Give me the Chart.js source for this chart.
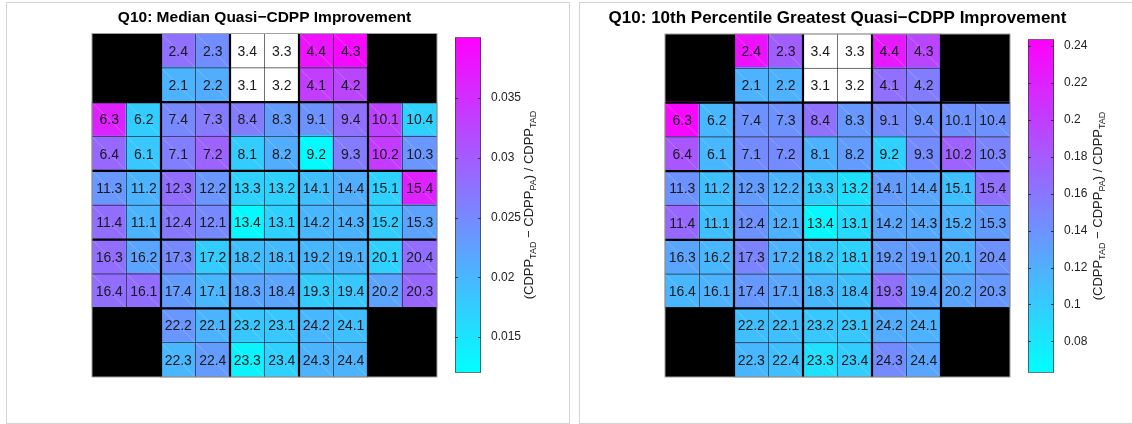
<!DOCTYPE html>
<html>
<head>
<meta charset="utf-8">
<script src="https://cdn.jsdelivr.net/npm/chart.js@4.4.1/dist/chart.umd.min.js"></script>
<style>
  body { margin: 0; background: #fff; width: 1132px; height: 424px; overflow: hidden; position: relative; }
  .panel { position: absolute; top: 2px; height: 420px; border: 1px solid #d4d4d4; box-sizing: content-box; }
  canvas { position: absolute; }
</style>
</head>
<body>
<div class="panel" style="left:6px;width:562px;"></div>
<div class="panel" style="left:579px;width:600px;"></div>
<canvas id="mapL" width="440" height="376" style="left:8px;top:2px;"></canvas>
<canvas id="barL" width="122" height="354" style="left:448px;top:28px;"></canvas>
<canvas id="mapR" width="540" height="376" style="left:582px;top:2px;"></canvas>
<canvas id="barR" width="111" height="352" style="left:1021px;top:30px;"></canvas>
<script>
// module.output names, top row first; null = no module (black)
var cellNames = [
    [null, null, "2.4", "2.3", "3.4", "3.3", "4.4", "4.3", null, null],
    [null, null, "2.1", "2.2", "3.1", "3.2", "4.1", "4.2", null, null],
    ["6.3", "6.2", "7.4", "7.3", "8.4", "8.3", "9.1", "9.4", "10.1", "10.4"],
    ["6.4", "6.1", "7.1", "7.2", "8.1", "8.2", "9.2", "9.3", "10.2", "10.3"],
    ["11.3", "11.2", "12.3", "12.2", "13.3", "13.2", "14.1", "14.4", "15.1", "15.4"],
    ["11.4", "11.1", "12.4", "12.1", "13.4", "13.1", "14.2", "14.3", "15.2", "15.3"],
    ["16.3", "16.2", "17.3", "17.2", "18.2", "18.1", "19.2", "19.1", "20.1", "20.4"],
    ["16.4", "16.1", "17.4", "17.1", "18.3", "18.4", "19.3", "19.4", "20.2", "20.3"],
    [null, null, "22.2", "22.1", "23.2", "23.1", "24.2", "24.1", null, null],
    [null, null, "22.3", "22.4", "23.3", "23.4", "24.3", "24.4", null, null]
];

// median improvement, null = no data
var medianValues = [
    [null, null, 0.0278, 0.0246, null, null, 0.0380, 0.0390, null, null],
    [null, null, 0.0204, 0.0210, null, null, 0.0334, 0.0325, null, null],
    [0.0362, 0.0176, 0.0250, 0.0266, 0.0264, 0.0230, 0.0240, 0.0278, 0.0328, 0.0171],
    [0.0286, 0.0182, 0.0262, 0.0292, 0.0176, 0.0210, 0.0126, 0.0264, 0.0336, 0.0236],
    [0.0236, 0.0204, 0.0280, 0.0236, 0.0171, 0.0171, 0.0190, 0.0210, 0.0171, 0.0365],
    [0.0280, 0.0204, 0.0270, 0.0250, 0.0128, 0.0171, 0.0199, 0.0204, 0.0176, 0.0222],
    [0.0280, 0.0220, 0.0250, 0.0176, 0.0190, 0.0196, 0.0199, 0.0204, 0.0171, 0.0280],
    [0.0280, 0.0280, 0.0230, 0.0199, 0.0220, 0.0220, 0.0176, 0.0182, 0.0220, 0.0288],
    [null, null, 0.0236, 0.0204, 0.0182, 0.0182, 0.0199, 0.0190, null, null],
    [null, null, 0.0199, 0.0230, 0.0134, 0.0171, 0.0204, 0.0204, null, null]
];

// 10th percentile greatest improvement
var p10Values = [
    [null, null, 0.2320, 0.1780, null, null, 0.2260, 0.1950, null, null],
    [null, null, 0.1173, 0.1173, null, null, 0.1640, 0.1550, null, null],
    [0.2380, 0.1137, 0.1400, 0.1400, 0.1640, 0.1360, 0.1450, 0.1400, 0.1400, 0.1400],
    [0.1830, 0.1137, 0.1450, 0.1450, 0.1173, 0.1330, 0.0956, 0.1450, 0.1740, 0.1510],
    [0.1400, 0.1083, 0.1330, 0.1173, 0.0992, 0.0847, 0.1330, 0.1270, 0.1083, 0.1640],
    [0.1700, 0.1083, 0.1400, 0.1173, 0.0684, 0.0902, 0.1270, 0.1230, 0.1173, 0.1330],
    [0.1270, 0.1137, 0.1510, 0.1173, 0.1028, 0.0956, 0.1330, 0.1330, 0.1173, 0.1400],
    [0.1137, 0.1173, 0.1360, 0.1270, 0.1137, 0.1083, 0.1640, 0.1270, 0.1270, 0.1360],
    [null, null, 0.1083, 0.1083, 0.1028, 0.1028, 0.1209, 0.1173, null, null],
    [null, null, 0.1137, 0.1083, 0.0847, 0.0992, 0.1450, 0.1270, null, null]
];

var columns = ["1", "2", "3", "4", "5", "6", "7", "8", "9", "10"];
var medianTicks = [0.015, 0.02, 0.025, 0.03, 0.035];
var p10Ticks = [0.08, 0.1, 0.12, 0.14, 0.16, 0.18, 0.2, 0.22, 0.24];
var medianRange = [0.012, 0.0401];
var p10Range = [0.063, 0.2437];

Chart.defaults.font.family = '"Liberation Sans", Arial, Helvetica, sans-serif';
Chart.defaults.color = "#222";

function coolColor(v, range) {
    var t = (v - range[0]) / (range[1] - range[0]);
    t = Math.max(0, Math.min(1, t));
    return "rgb(" + Math.round(255 * t) + "," + Math.round(255 * (1 - t)) + ",255)";
}

var cellPlugin = {
    id: "cellDecor",
    afterDatasetsDraw: function (chart, args, opts) {
        var ctx = chart.ctx;
        var area = chart.chartArea;
        var xs = chart.scales.x, ys = chart.scales.y;
        var n = columns.length;
        ctx.save();
        // faint diagonal and thin outline on every real cell
        chart.data.datasets.forEach(function (ds, di) {
            chart.getDatasetMeta(di).data.forEach(function (bar, i) {
                if (!ds.cellNames[i]) return;
                var p = bar.getProps(["x", "y", "base", "width"], true);
                var left = p.x - p.width / 2, top = Math.min(p.y, p.base);
                var h = Math.abs(p.base - p.y);
                ctx.strokeStyle = "rgba(255,255,255,0.3)";
                ctx.lineWidth = 0.7;
                ctx.beginPath();
                ctx.moveTo(left, top);
                ctx.lineTo(left + p.width, top + h);
                ctx.stroke();
                ctx.strokeStyle = "rgba(30,30,30,0.55)";
                ctx.lineWidth = 0.7;
                ctx.strokeRect(left, top, p.width, h);
            });
        });
        // module boundaries
        ctx.strokeStyle = "#000";
        ctx.lineWidth = 2.2;
        for (var k = 2; k < n; k += 2) {
            var x = xs.getPixelForValue(k - 0.5);
            var y = ys.getPixelForValue(k);
            ctx.beginPath();
            ctx.moveTo(x, area.top);
            ctx.lineTo(x, area.bottom);
            ctx.moveTo(area.left, y);
            ctx.lineTo(area.right, y);
            ctx.stroke();
        }
        ctx.strokeStyle = "#a0a0a0";
        ctx.lineWidth = 1;
        ctx.strokeRect(area.left, area.top, area.right - area.left, area.bottom - area.top);
        // module.output labels
        ctx.fillStyle = "#1a1a1a";
        ctx.font = '14px "Liberation Sans", Arial, sans-serif';
        ctx.textAlign = "center";
        ctx.textBaseline = "middle";
        chart.data.datasets.forEach(function (ds, di) {
            chart.getDatasetMeta(di).data.forEach(function (bar, i) {
                var name = ds.cellNames[i];
                if (!name) return;
                var p = bar.getProps(["x", "y", "base"], true);
                ctx.fillText(name, p.x, (p.y + p.base) / 2 + 1);
            });
        });
        // title
        ctx.fillStyle = "#000";
        ctx.font = "bold " + opts.titleSize + 'px "Liberation Sans", Arial, sans-serif';
        ctx.fillText(opts.title, (area.left + area.right) / 2, opts.titleY);
        ctx.restore();
    }
};

function makeMap(id, values, range, title, titleSize, padding) {
    var datasets = [];
    for (var r = cellNames.length - 1; r >= 0; r--) {
        var colors = [];
        for (var c = 0; c < columns.length; c++) {
            if (cellNames[r][c] === null) colors.push("#000");
            else if (values[r][c] === null) colors.push("#fff");
            else colors.push(coolColor(values[r][c], range));
        }
        datasets.push({
            data: columns.map(function () { return 1; }),
            cellNames: cellNames[r],
            backgroundColor: colors,
            borderWidth: 0,
            inflateAmount: 1,
            barPercentage: 1,
            categoryPercentage: 1
        });
    }
    return new Chart(document.getElementById(id), {
        type: "bar",
        data: { labels: columns, datasets: datasets },
        options: {
            responsive: false,
            animation: false,
            layout: { padding: padding },
            plugins: {
                legend: { display: false },
                tooltip: { enabled: false },
                cellDecor: { title: title, titleY: 16, titleSize: titleSize }
            },
            scales: {
                x: { stacked: true, display: false },
                y: { stacked: true, display: false, min: 0, max: 10 }
            }
        },
        plugins: [cellPlugin]
    });
}

var cbPlugin = {
    id: "cbDecor",
    afterDraw: function (chart, args, opts) {
        var ctx = chart.ctx;
        var area = chart.chartArea;
        var scale = chart.scales.y;
        ctx.save();
        ctx.strokeStyle = "#333";
        ctx.lineWidth = 1;
        opts.ticks.forEach(function (v) {
            var y = Math.round(scale.getPixelForValue(v)) + 0.5;
            ctx.beginPath();
            ctx.moveTo(area.left, y);
            ctx.lineTo(area.left + 3, y);
            ctx.moveTo(area.right - 3, y);
            ctx.lineTo(area.right, y);
            ctx.stroke();
        });
        // axis label with subscripts
        var parts = [["(CDPP", 0], ["TAD", 1], [" \u2212 CDPP", 0], ["PA", 1], [") / CDPP", 0], ["TAD", 1]];
        var big = '13px "Liberation Sans", Arial, sans-serif';
        var small = '9px "Liberation Sans", Arial, sans-serif';
        var total = 0;
        parts.forEach(function (p) {
            ctx.font = p[1] ? small : big;
            total += ctx.measureText(p[0]).width;
        });
        ctx.translate(opts.labelX, (area.top + area.bottom) / 2);
        ctx.rotate(-Math.PI / 2);
        ctx.fillStyle = "#222";
        ctx.textBaseline = "alphabetic";
        ctx.textAlign = "left";
        var x = -total / 2;
        parts.forEach(function (p) {
            ctx.font = p[1] ? small : big;
            ctx.fillText(p[0], x, p[1] ? 7 : 4);
            x += ctx.measureText(p[0]).width;
        });
        ctx.restore();
    }
};

function makeBar(id, range, ticks, padding, labelX) {
    return new Chart(document.getElementById(id), {
        type: "bar",
        data: {
            labels: [""],
            datasets: [{
                data: [range],
                backgroundColor: function (c) {
                    var area = c.chart.chartArea;
                    if (!area) return "#8080ff";
                    var g = c.chart.ctx.createLinearGradient(0, area.bottom, 0, area.top);
                    g.addColorStop(0, "rgb(0,255,255)");
                    g.addColorStop(1, "rgb(255,0,255)");
                    return g;
                },
                borderColor: "#333",
                borderWidth: 1,
                borderSkipped: false,
                barPercentage: 1,
                categoryPercentage: 1
            }]
        },
        options: {
            responsive: false,
            animation: false,
            layout: { padding: padding },
            plugins: {
                legend: { display: false },
                tooltip: { enabled: false },
                cbDecor: { ticks: ticks, labelX: labelX }
            },
            scales: {
                x: { display: false },
                y: {
                    position: "right",
                    min: range[0],
                    max: range[1],
                    grid: { display: false },
                    border: { display: false },
                    afterBuildTicks: function (scale) {
                        scale.ticks = ticks.map(function (v) { return { value: v }; });
                    },
                    afterFit: function (scale) {
                        scale.width = 40;
                    },
                    ticks: {
                        padding: 2,
                        color: "#222",
                        font: { size: 12 },
                        callback: function (v) { return String(v); }
                    }
                }
            }
        },
        plugins: [cbPlugin]
    });
}

makeMap("mapL", medianValues, medianRange, "Q10: Median Quasi\u2212CDPP Improvement", 15.5,
    { left: 84, right: 11, top: 31.5, bottom: 1 });
makeMap("mapR", p10Values, p10Range, "Q10: 10th Percentile Greatest Quasi\u2212CDPP Improvement", 17,
    { left: 83, right: 112, top: 32, bottom: 1 });
makeBar("barL", medianRange, medianTicks, { left: 7, right: 49, top: 5, bottom: 5 }, 81);
makeBar("barR", p10Range, p10Ticks, { left: 7, right: 38, top: 5, bottom: 5 }, 77);
</script>
</body>
</html>
